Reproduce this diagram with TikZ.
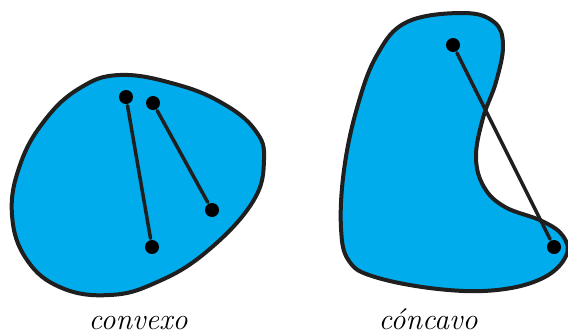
\documentclass[tikz,border=0pt]{standalone}
\usetikzlibrary{calc}
\definecolor{blobblue}{RGB}{0,172,236}

\begin{document}
\begin{tikzpicture}[line width=3.5pt, line cap=round, line join=round, x=1pt, y=-1pt,
  blob/.style={fill=blobblue, draw=black!88, line width=4pt},
  dot/.style={circle, fill=black, inner sep=0pt, minimum size=14pt},
  chord/.style={draw=black!88, line width=3.5pt},
  caption/.style={font=\fontsize{30}{32}\selectfont\itshape, anchor=base, inner sep=0pt}]
  \useasboundingbox (0,0) rectangle (568,335);
  % left blob: every chord stays inside
  \draw[blob] plot[smooth cycle, tension=0.7] coordinates {(120,75) (175,84) (222,103) (255,130) (264,160)
    (252,203) (205,253) (155,283) (110,295) (62,288) (27,260) (12,215) (20,165) (45,120) (80,88)};
  % right blob: the chord leaves through the notch
  \draw[blob] plot[smooth cycle, tension=0.65] coordinates {(463,13) (494,22) (503,45) (496,82) (483,118)
    (476,157) (484,187) (505,207) (542,221) (563,236) (566,256) (543,278) (497,290) (438,289)
    (375,277) (349,261) (341,228) (344,170) (357,108) (377,55) (407,22)};
  \foreach \n/\p in {c1/{(126,97)}, c2/{(152,247)}, c3/{(153,103)}, c4/{(212,210)}, k1/{(453,45)}, k2/{(554,247)}}
    { \node[dot] (\n) at \p {}; }
  \draw[chord] (c1) -- (c2);
  \draw[chord] (c3) -- (c4);
  \draw[chord] (k1) -- (k2);
  \node[caption] (convexo) at (138,329) {convexo};
  \node[caption] (concavo) at (428,329) {cóncavo};
\end{tikzpicture}
\end{document}
